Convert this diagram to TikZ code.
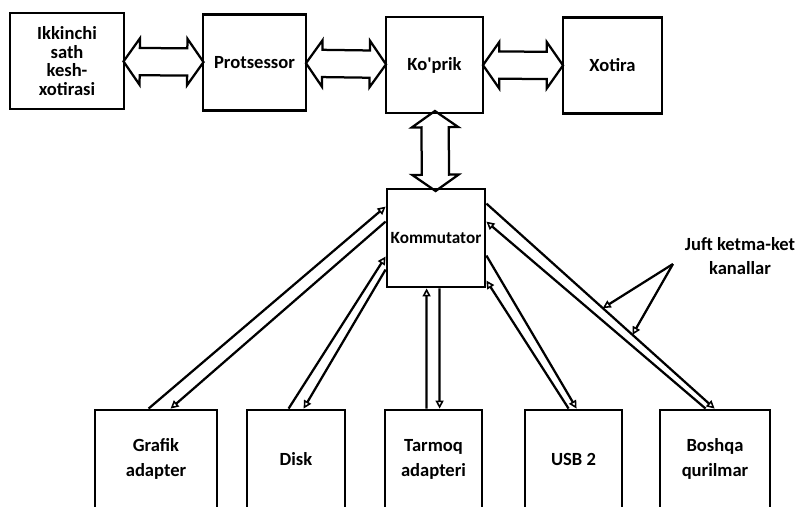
\documentclass[tikz,border=0pt]{standalone}
\usepackage{fontspec}
\setmainfont{Carlito}
\usetikzlibrary{arrows.meta,shapes.arrows}

\tikzset{
  box/.style={draw,line width=2pt,minimum height=2.4cm,align=center,inner sep=1pt,
    font=\fontsize{13.2}{13.2}\selectfont\bfseries},
  dev/.style={box,minimum height=2.45cm,font=\fontsize{13.2}{17.8}\selectfont\bfseries},
  bus/.style={double arrow,draw,line width=1.6pt,sloped,inner xsep=0pt,inner ysep=0.3125cm,
    minimum height=2cm,double arrow head extend=0.24cm,double arrow tip angle=110},
  chan/.style={line width=1.6pt,-{Triangle[open,length=0.2cm,width=0.2cm,line width=1.1pt]}},
}

\begin{document}
\begin{tikzpicture}[x=0.025cm,y=-0.025cm]
    \useasboundingbox (0,0) rectangle (800,506);
    \clip (0,0) rectangle (800,506);
    % top row
    \node[box,minimum width=2.85cm] (ik) at (67,61) {Ikkinchi\\sath\\kesh-\\xotirasi};
    \node[box,minimum width=2.575cm] (pr) at (254.5,62.5) {Protsessor};
    \node[box,minimum width=2.425cm] (kp) at (434.5,65) {Ko\textquotesingle prik};
    \node[box,minimum width=2.475cm] (xt) at (612.5,65.5) {Xotira};
    \node[box,minimum width=2.45cm,minimum height=2.45cm,font=\fontsize{12.2}{12.2}\selectfont\bfseries]
      (km) at (436,238) {Kommutator};
    % devices
    \foreach \n/\x/\w/\t in {gr/156/3.05/{Grafik\\adapter},dk/296/2.45/Disk,
      tq/433.5/2.425/{Tarmoq\\adapteri},us/573.5/2.425/USB 2,bq/715/2.75/{Boshqa\\qurilmar}}
      \node[dev,minimum width=\w cm] (\n) at (\x,459) {\t};
    % buses
    \foreach \a/\b in {ik/pr,pr/kp,kp/xt,kp/km}
      \path (\a) -- node[bus] {} (\b);
    % serial channels, one up and one down per device
    \foreach \d/\k/\u/\kx/\ky/\mx/\my/\v in {gr/north west/55/0/19/0/34/77,
      dk/north west/43/0/69/0/82/58,tq/south west/43/41/0/54/0/56,
      us/north east/45/0/93/0/68/53,bq/north east/47/0/34/0/16/56}
    {
      \draw[chan] ([shift={(\u,0)}]\d.north west) -- ([shift={(\kx,\ky)}]km.\k);
      \draw[chan] ([shift={(\mx,\my)}]km.\k) -- coordinate[pos=.51] (\d1)
        coordinate[pos=.64] (\d2) ([shift={(\v,0)}]\d.north west);
    }
    \node[font=\fontsize{13.2}{16.5}\selectfont\bfseries,align=center] (lbl) at (740,256)
      {Juft ketma-ket\\kanallar};
    \coordinate (jp) at ([shift={(-7,8)}]lbl.west);
    \draw[chan] (jp) -- (bq1);
    \draw[chan] (jp) -- (bq2);
\end{tikzpicture}
\end{document}
